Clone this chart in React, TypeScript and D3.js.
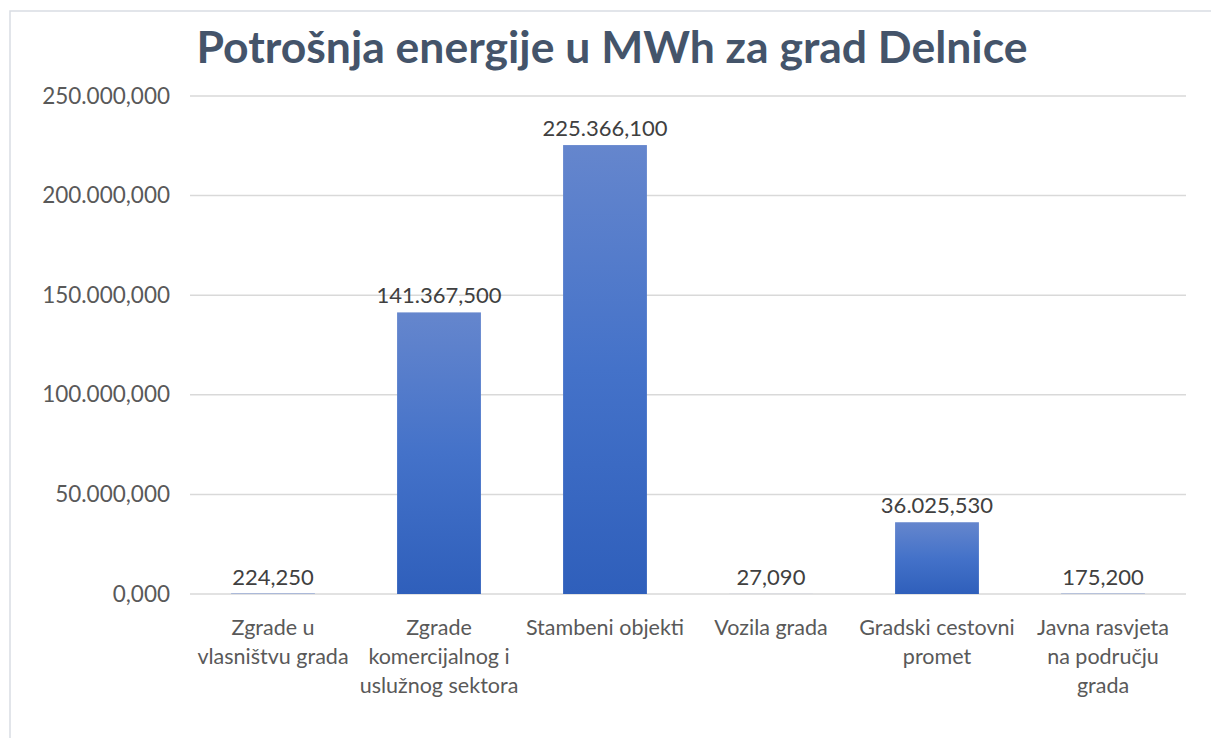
import { useRef, useEffect } from "react";
import * as d3 from "d3";

// chart data
const categories = [
  "Zgrade u\nvlasništvu grada",
  "Zgrade\nkomercijalnog i\nuslužnog sektora",
  "Stambeni objekti",
  "Vozila grada",
  "Gradski cestovni\npromet",
  "Javna rasvjeta\nna području\ngrada",
];
const values = [224.25, 141367.5, 225366.1, 27.09, 36025.53, 175.2];
const yTicks = [0, 50000, 100000, 150000, 200000, 250000];
const title = "Potrošnja energije u MWh za grad Delnice";

const W = 1211;
const H = 738;
const FONT = "Lato, 'Open Sans', sans-serif";

// hr-HR number format: 141.367,500
const hr = d3.formatLocale({
  decimal: ",",
  thousands: ".",
  grouping: [3],
  currency: ["", " kn"],
});
const fmt = hr.format(",.3f");

function drawChart(svgEl: SVGSVGElement) {
  const svg = d3.select(svgEl);
  svg.selectAll("*").remove();

  const left = 190, right = 1186, top = 96, bottom = 594;

  const x = d3.scaleBand<number>()
    .domain(categories.map((_, i) => i))
    .range([left, right])
    .paddingInner(0.495)
    .paddingOuter(0.2475);

  const y = d3.scaleLinear().domain([0, 250000]).range([bottom, top]);

  const defs = svg.append("defs");
  const grad = defs.append("linearGradient")
    .attr("id", "barGrad")
    .attr("x1", 0).attr("y1", 0).attr("x2", 0).attr("y2", 1);
  grad.append("stop").attr("offset", "0%").attr("stop-color", "#6586cd");
  grad.append("stop").attr("offset", "50%").attr("stop-color", "#4472c9");
  grad.append("stop").attr("offset", "100%").attr("stop-color", "#2f5fbb");

  // outer frame
  svg.append("rect")
    .attr("x", 10).attr("y", 11)
    .attr("width", 1400).attr("height", 900)
    .attr("fill", "#fff")
    .attr("stroke", "#d9dde3")
    .attr("stroke-width", 1.5);

  // title
  svg.append("text")
    .attr("x", 612).attr("y", 63)
    .attr("text-anchor", "middle")
    .attr("font-family", FONT)
    .attr("font-weight", 700)
    .attr("font-size", 44.5)
    .attr("fill", "#44546a")
    .text(title);

  // gridlines + y labels
  const grid = svg.append("g");
  grid.selectAll("line")
    .data(yTicks)
    .join("line")
    .attr("x1", left).attr("x2", right)
    .attr("y1", d => y(d)).attr("y2", d => y(d))
    .attr("stroke", "#d9d9d9")
    .attr("stroke-width", 1.5);

  grid.selectAll("text")
    .data(yTicks)
    .join("text")
    .attr("x", 170)
    .attr("y", d => y(d) + 7.5)
    .attr("text-anchor", "end")
    .attr("font-family", FONT)
    .attr("font-size", 22.5)
    .attr("fill", "#595959")
    .text(d => fmt(d));

  // bars
  svg.append("g")
    .selectAll("rect")
    .data(values)
    .join("rect")
    .attr("x", (_, i) => x(i)!)
    .attr("y", d => y(d))
    .attr("width", x.bandwidth())
    .attr("height", d => bottom - y(d))
    .attr("fill", "url(#barGrad)");

  // value labels
  svg.append("g")
    .selectAll("text")
    .data(values)
    .join("text")
    .attr("x", (_, i) => x(i)! + x.bandwidth() / 2)
    .attr("y", d => y(d) - 9)
    .attr("text-anchor", "middle")
    .attr("font-family", FONT)
    .attr("font-size", 22)
    .attr("fill", "#404040")
    .text(d => fmt(d));

  // category labels
  const cat = svg.append("g")
    .selectAll("text")
    .data(categories)
    .join("text")
    .attr("text-anchor", "middle")
    .attr("font-family", FONT)
    .attr("font-size", 21.5)
    .attr("fill", "#595959");

  cat.each(function (d, i) {
    const t = d3.select(this);
    d.split("\n").forEach((line, k) => {
      t.append("tspan")
        .attr("x", x(i)! + x.bandwidth() / 2)
        .attr("y", 635 + k * 29)
        .text(line);
    });
  });
}

export default function App() {
  const ref = useRef<SVGSVGElement>(null);

  useEffect(() => {
    if (ref.current) drawChart(ref.current);
  }, []);

  return (
    <svg
      ref={ref}
      width={W}
      height={H}
      style={{ position: "absolute", left: 0, top: 0, background: "#fff" }}
    />
  );
}
